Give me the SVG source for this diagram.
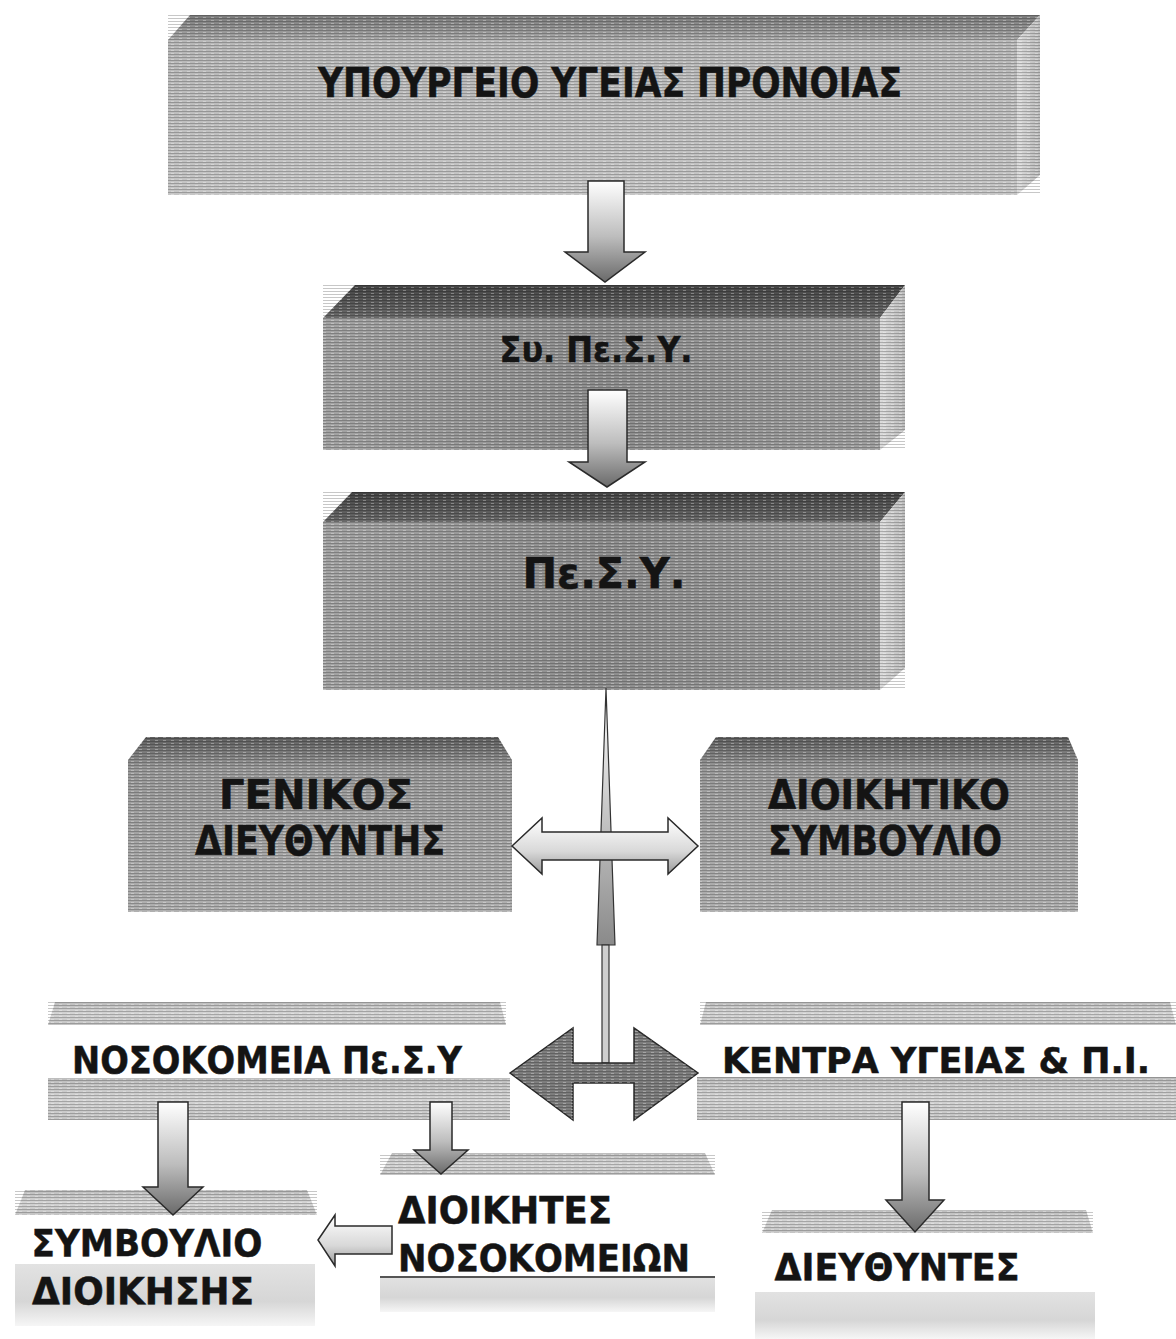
<svg xmlns="http://www.w3.org/2000/svg" width="1176" height="1339" viewBox="0 0 1176 1339">
<defs>
<style>
.t{font-family:"DejaVu Sans","Liberation Sans",sans-serif;font-weight:bold;fill:#141414;stroke:#141414;stroke-width:0.5}
.ol{stroke:#2a2a2a;stroke-width:1.5}
</style>
<pattern id="str" width="8" height="3" patternUnits="userSpaceOnUse"><rect width="8" height="1" fill="#000" opacity="0.22"/><rect x="3" y="2" width="3" height="1" fill="#fff" opacity="0.3"/></pattern>
<linearGradient id="topFace" x1="0" y1="0" x2="0" y2="1"><stop offset="0" stop-color="#7a7a7a"/><stop offset="1" stop-color="#a8a8a8"/></linearGradient>
<linearGradient id="front1" x1="0" y1="0" x2="0" y2="1"><stop offset="0" stop-color="#b8b8b8"/><stop offset="1" stop-color="#c6c6c6"/></linearGradient>
<linearGradient id="side" x1="0" y1="0" x2="1" y2="0"><stop offset="0" stop-color="#dcdcdc"/><stop offset="1" stop-color="#bcbcbc"/></linearGradient>
<linearGradient id="topDark" x1="0" y1="0" x2="0" y2="1"><stop offset="0" stop-color="#444444"/><stop offset="1" stop-color="#6a6a6a"/></linearGradient>
<linearGradient id="front2" x1="0" y1="0" x2="1" y2="0"><stop offset="0" stop-color="#a4a4a4"/><stop offset="0.5" stop-color="#8e8e8e"/><stop offset="1" stop-color="#a0a0a0"/></linearGradient>
<linearGradient id="front3" x1="0" y1="0" x2="0" y2="1"><stop offset="0" stop-color="#5e5e5e"/><stop offset="0.18" stop-color="#9a9a9a"/><stop offset="1" stop-color="#b0b0b0"/></linearGradient>
<linearGradient id="band" x1="0" y1="0" x2="0" y2="1"><stop offset="0" stop-color="#bdbdbd"/><stop offset="0.5" stop-color="#d4d4d4"/><stop offset="1" stop-color="#c4c4c4"/></linearGradient>
<linearGradient id="fade" x1="0" y1="0" x2="0" y2="1"><stop offset="0" stop-color="#e2e2e2"/><stop offset="0.6" stop-color="#d6d6d6"/><stop offset="1" stop-color="#f6f6f6"/></linearGradient>
<linearGradient id="arrV" x1="0" y1="0" x2="0" y2="1"><stop offset="0" stop-color="#ffffff"/><stop offset="0.55" stop-color="#bdbdbd"/><stop offset="1" stop-color="#6a6a6a"/></linearGradient>
<linearGradient id="arrH" x1="0" y1="0" x2="0" y2="1"><stop offset="0" stop-color="#ffffff"/><stop offset="0.6" stop-color="#d8d8d8"/><stop offset="1" stop-color="#9a9a9a"/></linearGradient>
<linearGradient id="spike" x1="0" y1="0" x2="0" y2="1"><stop offset="0" stop-color="#ffffff"/><stop offset="1" stop-color="#8a8a8a"/></linearGradient>
</defs>
<rect width="1176" height="1339" fill="#ffffff"/>

<g id="ypourgeio">
<polygon points="168,40 190,15 1040,15 1017,40" fill="url(#topFace)"/>
<polygon points="1017,40 1040,15 1040,175 1017,195" fill="url(#side)"/>
<rect x="168" y="40" width="849" height="155" fill="url(#front1)"/>
<rect x="168" y="15" width="872" height="180" fill="url(#str)"/>
<text class="t" x="610" y="97" text-anchor="middle" textLength="584" lengthAdjust="spacingAndGlyphs" font-size="40">ΥΠΟΥΡΓΕΙΟ ΥΓΕΙΑΣ ΠΡΟΝΟΙΑΣ</text>
</g>

<g id="sypesy">
<polygon points="323,318 355,285 905,285 880,318" fill="url(#topDark)"/>
<polygon points="880,318 905,285 905,430 880,450" fill="url(#side)"/>
<rect x="323" y="318" width="557" height="132" fill="url(#front2)"/>
<rect x="323" y="285" width="582" height="165" fill="url(#str)"/>
<text class="t" x="596" y="362" text-anchor="middle" textLength="193" lengthAdjust="spacingAndGlyphs" font-size="36">Συ. Πε.Σ.Υ.</text>
</g>

<g id="pesy">
<polygon points="323,522 352,492 905,492 880,522" fill="url(#topDark)"/>
<polygon points="880,522 905,492 905,668 880,690" fill="url(#side)"/>
<rect x="323" y="522" width="557" height="168" fill="url(#front2)"/>
<rect x="323" y="492" width="582" height="198" fill="url(#str)"/>
<text class="t" x="604" y="588" text-anchor="middle" textLength="163" lengthAdjust="spacingAndGlyphs" font-size="42">Πε.Σ.Υ.</text>
</g>

<g id="genikos">
<polygon points="128,760 146,737 498,737 512,760 512,912 128,912" fill="url(#front3)"/>
<polygon points="128,760 146,737 498,737 512,760 512,912 128,912" fill="url(#str)"/>
<text class="t" x="316" y="809" text-anchor="middle" textLength="194" lengthAdjust="spacingAndGlyphs" font-size="40">ΓΕΝΙΚΟΣ</text>
<text class="t" x="320" y="855" text-anchor="middle" textLength="250" lengthAdjust="spacingAndGlyphs" font-size="40">ΔΙΕΥΘΥΝΤΗΣ</text>
</g>

<g id="dioikitiko">
<polygon points="700,760 716,737 1068,737 1078,760 1078,912 700,912" fill="url(#front3)"/>
<polygon points="700,760 716,737 1068,737 1078,760 1078,912 700,912" fill="url(#str)"/>
<text class="t" x="889" y="809" text-anchor="middle" textLength="242" lengthAdjust="spacingAndGlyphs" font-size="40">ΔΙΟΙΚΗΤΙΚΟ</text>
<text class="t" x="885" y="855" text-anchor="middle" textLength="234" lengthAdjust="spacingAndGlyphs" font-size="40">ΣΥΜΒΟΥΛΙΟ</text>
</g>

<g id="nosokomeia">
<polygon points="48,1025 55,1002 500,1002 506,1025" fill="url(#band)"/>
<rect x="48" y="1002" width="458" height="23" fill="url(#str)"/>
<rect x="48" y="1078" width="462" height="42" fill="url(#band)"/>
<rect x="48" y="1078" width="462" height="42" fill="url(#str)"/>
<text class="t" x="267" y="1073" text-anchor="middle" textLength="390" lengthAdjust="spacingAndGlyphs" font-size="37">ΝΟΣΟΚΟΜΕΙΑ Πε.Σ.Υ</text>
</g>

<g id="kentra">
<polygon points="700,1025 706,1002 1170,1002 1176,1025" fill="url(#band)"/>
<rect x="700" y="1002" width="476" height="23" fill="url(#str)"/>
<rect x="697" y="1077" width="479" height="43" fill="url(#band)"/>
<rect x="697" y="1077" width="479" height="43" fill="url(#str)"/>
<text class="t" x="936" y="1073" text-anchor="middle" textLength="428" lengthAdjust="spacingAndGlyphs" font-size="35">ΚΕΝΤΡΑ ΥΓΕΙΑΣ &amp; Π.Ι.</text>
</g>

<g id="symvoulio-dioikisis">
<polygon points="15,1215 25,1190 307,1190 317,1215" fill="url(#band)"/>
<rect x="15" y="1190" width="302" height="25" fill="url(#str)"/>
<rect x="15" y="1264" width="300" height="62" fill="url(#fade)"/>
<text class="t" x="147" y="1256" text-anchor="middle" textLength="231" lengthAdjust="spacingAndGlyphs" font-size="38">ΣΥΜΒΟΥΛΙΟ</text>
<text class="t" x="143" y="1304" text-anchor="middle" textLength="222" lengthAdjust="spacingAndGlyphs" font-size="38">ΔΙΟΙΚΗΣΗΣ</text>
</g>

<g id="dioikites">
<polygon points="380,1175 392,1153 705,1153 715,1175" fill="url(#band)"/>
<rect x="380" y="1153" width="335" height="22" fill="url(#str)"/>
<rect x="380" y="1276" width="335" height="36" fill="url(#fade)"/>
<rect x="380" y="1276" width="335" height="2" fill="#555"/>
<text class="t" x="505" y="1223" text-anchor="middle" textLength="214" lengthAdjust="spacingAndGlyphs" font-size="38">ΔΙΟΙΚΗΤΕΣ</text>
<text class="t" x="544" y="1271" text-anchor="middle" textLength="292" lengthAdjust="spacingAndGlyphs" font-size="38">ΝΟΣΟΚΟΜΕΙΩΝ</text>
</g>

<g id="dieythyntes">
<polygon points="762,1233 772,1210 1086,1210 1093,1233" fill="url(#band)"/>
<rect x="762" y="1210" width="331" height="23" fill="url(#str)"/>
<rect x="755" y="1292" width="340" height="47" fill="url(#fade)"/>
<text class="t" x="897" y="1280" text-anchor="middle" textLength="245" lengthAdjust="spacingAndGlyphs" font-size="38">ΔΙΕΥΘΥΝΤΕΣ</text>
</g>

<g id="connectors">
<polygon class="ol" points="588,181 624,181 624,252 645,252 605,282 565,252 588,252" fill="url(#arrV)"/>
<polygon class="ol" points="588,390 627,390 627,462 645,462 607,487 569,462 588,462" fill="url(#arrV)"/>
<polygon points="606,688 615,945 597,945" fill="url(#spike)" stroke="#333" stroke-width="1.2"/>
<rect x="602" y="945" width="7" height="118" fill="#cfcfcf" stroke="#333" stroke-width="1.2"/>
<polygon class="ol" points="512,846 542,818 542,832 668,832 668,818 698,846 668,874 668,860 542,860 542,874" fill="url(#arrH)"/>
<polygon class="ol" points="510,1073 573,1028 573,1063 634,1063 634,1028 698,1073 634,1120 634,1083 573,1083 573,1120" fill="#7d7d7d"/>
<polygon points="510,1073 573,1028 573,1063 634,1063 634,1028 698,1073 634,1120 634,1083 573,1083 573,1120" fill="url(#str)"/>
<polygon class="ol" points="158,1102 188,1102 188,1187 203,1187 173,1215 143,1187 158,1187" fill="url(#arrV)"/>
<polygon class="ol" points="430,1102 452,1102 452,1150 468,1150 441,1174 414,1150 430,1150" fill="url(#arrV)"/>
<polygon class="ol" points="902,1102 929,1102 929,1200 944,1200 915,1232 886,1200 902,1200" fill="url(#arrV)"/>
<polygon class="ol" points="318,1240 335,1215 335,1226 392,1226 392,1254 335,1254 335,1266" fill="url(#arrH)"/>
</g>
</svg>
